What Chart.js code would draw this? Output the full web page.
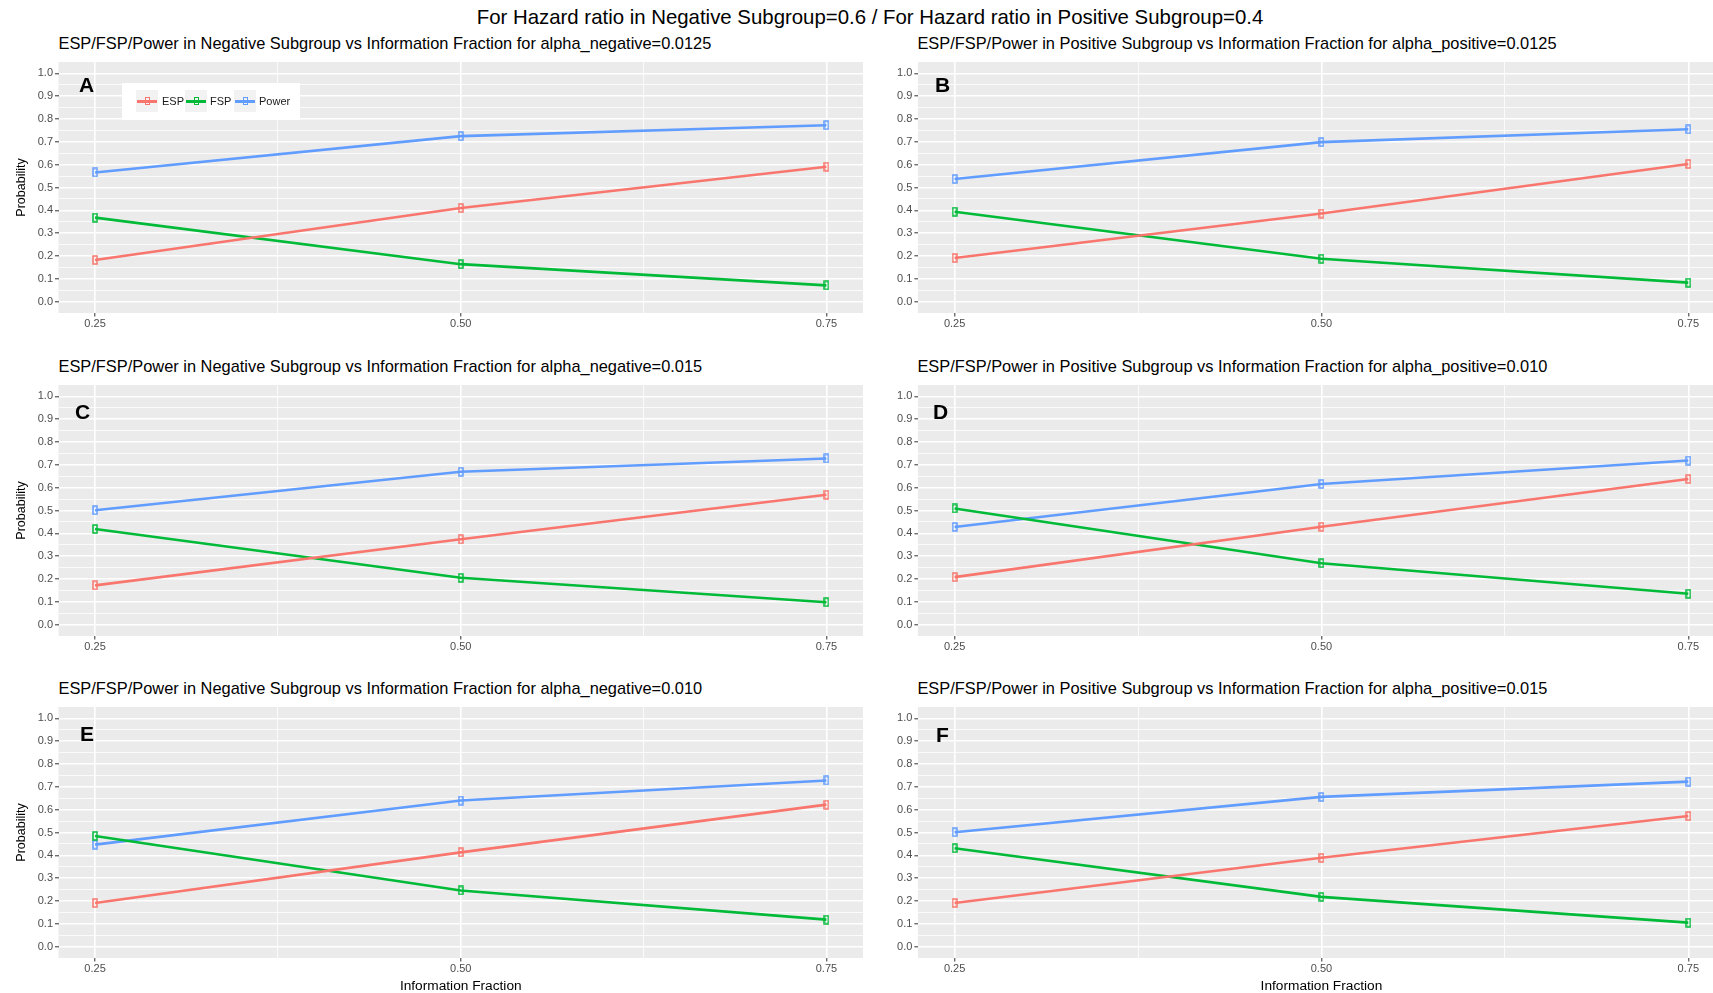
<!DOCTYPE html>
<html>
<head>
<meta charset="utf-8">
<script src="https://cdn.jsdelivr.net/npm/chart.js@4.4.1/dist/chart.umd.min.js"></script>
<style>
html,body{margin:0;padding:0;background:#fff;overflow:hidden;width:1713px;height:993px;position:relative;font-family:"Liberation Sans",Arial,Helvetica,sans-serif}
.txt{position:absolute;white-space:nowrap;color:#000;line-height:1}
canvas{position:absolute;display:block}
.legend{position:absolute;background:#fff}
.key{position:absolute;width:22px;height:22px;background:#F2F2F2}
.keyline{position:absolute;left:1px;right:1px;top:10px;height:2.6px}
.keymark{position:absolute;left:9px;top:7px;width:2.5px;height:6px;border:1.3px solid;background:transparent}
.ltxt{position:absolute;font-size:11px;color:#1A1A1A;line-height:1}
</style>
</head>
<body>
<script>
// ---------------- DATA ----------------
const mainTitle = "For Hazard ratio in Negative Subgroup=0.6 / For Hazard ratio in Positive Subgroup=0.4";
const seriesNames = ["ESP", "FSP", "Power"];
const seriesColors = ["#F8766D", "#00BA38", "#619CFF"];
const xValues = [0.25, 0.50, 0.75];
const xTickLabels = ["0.25", "0.50", "0.75"];
const yTickValues = [0, 0.1, 0.2, 0.3, 0.4, 0.5, 0.6, 0.7, 0.8, 0.9, 1.0];
const yTickLabels = ["0.0", "0.1", "0.2", "0.3", "0.4", "0.5", "0.6", "0.7", "0.8", "0.9", "1.0"];
const xAxisTitle = "Information Fraction";
const yAxisTitle = "Probability";
const panelLetters = ["A", "B", "C", "D", "E", "F"];
const panelTitles = [
  "ESP/FSP/Power in Negative Subgroup vs Information Fraction for alpha_negative=0.0125",
  "ESP/FSP/Power in Positive Subgroup vs Information Fraction for alpha_positive=0.0125",
  "ESP/FSP/Power in Negative Subgroup vs Information Fraction for alpha_negative=0.015",
  "ESP/FSP/Power in Positive Subgroup vs Information Fraction for alpha_positive=0.010",
  "ESP/FSP/Power in Negative Subgroup vs Information Fraction for alpha_negative=0.010",
  "ESP/FSP/Power in Positive Subgroup vs Information Fraction for alpha_positive=0.015"
];
// panel A
const espA = [0.182, 0.410, 0.591];
const fspA = [0.368, 0.164, 0.071];
const powerA = [0.566, 0.725, 0.773];
// panel B
const espB = [0.191, 0.386, 0.603];
const fspB = [0.394, 0.188, 0.083];
const powerB = [0.537, 0.699, 0.755];
// panel C
const espC = [0.172, 0.374, 0.569];
const fspC = [0.419, 0.205, 0.098];
const powerC = [0.501, 0.670, 0.728];
// panel D
const espD = [0.208, 0.429, 0.638];
const fspD = [0.509, 0.269, 0.135];
const powerD = [0.428, 0.616, 0.719];
// panel E
const espE = [0.191, 0.413, 0.622];
const fspE = [0.485, 0.246, 0.118];
const powerE = [0.447, 0.640, 0.728];
// panel F
const espF = [0.191, 0.389, 0.572];
const fspF = [0.431, 0.218, 0.105];
const powerF = [0.501, 0.656, 0.723];

const panelSeries = [
  [espA, fspA, powerA],
  [espB, fspB, powerB],
  [espC, fspC, powerC],
  [espD, fspD, powerD],
  [espE, fspE, powerE],
  [espF, fspF, powerF]
];

// ---------------- LAYOUT ----------------
const FONT = '"Liberation Sans", Arial, Helvetica, sans-serif';
const gridTops = [62, 385, 707];
const gridH = 251;
const colLayout = [
  {canvasLeft: 0, areaLeft: 58.5, areaRight: 862.5},
  {canvasLeft: 858.5, areaLeft: 917.4, areaRight: 1724}
];
const letterPos = [[79, 74], [935, 74], [75, 401], [933, 401], [80, 723], [936, 724]];
const xMinorGrid = [0.375, 0.625];
const yMinorGrid = [0.05, 0.15, 0.25, 0.35, 0.45, 0.55, 0.65, 0.75, 0.85, 0.95];

function addText(text, left, top, css) {
  const d = document.createElement('div');
  d.className = 'txt';
  d.textContent = text;
  d.style.left = left + 'px';
  d.style.top = top + 'px';
  Object.assign(d.style, css || {});
  document.body.appendChild(d);
  return d;
}

// main title (centered)
addText(mainTitle, 0, 7, {fontSize: '20.4px', width: '1740px', textAlign: 'center', left: '0px'});

function markerCanvas(color) {
  const c = document.createElement('canvas');
  c.width = 6; c.height = 10;
  const g = c.getContext('2d');
  g.strokeStyle = color;
  g.lineWidth = 1.5;
  g.strokeRect(1, 1, 4, 8);
  return c;
}
const markers = seriesColors.map(markerCanvas);

const bgPlugin = {
  id: 'panelBg',
  beforeDraw(chart) {
    const a = chart.chartArea;
    const ctx = chart.ctx;
    ctx.save();
    ctx.fillStyle = '#EBEBEB';
    ctx.fillRect(a.left, a.top, a.right - a.left, a.bottom - a.top);
    ctx.restore();
  }
};

function near(a, b) { return Math.abs(a - b) < 1e-6; }
function isMajorX(v) { return xValues.some(t => near(t, v)); }
function isMajorY(v) { return yTickValues.some(t => near(t, v)); }
function noPad(s) { s.paddingTop = 0; s.paddingBottom = 0; s.paddingLeft = 0; s.paddingRight = 0; }

for (let p = 0; p < 6; p++) {
  const row = Math.floor(p / 2), col = p % 2;
  const L = colLayout[col];
  const top = gridTops[row];
  const bottomRow = row === 2;
  const xAxisH = bottomRow ? 37 : 25;
  const yAxisW = L.areaLeft - L.canvasLeft;
  const cw = Math.round(L.areaRight - L.canvasLeft);
  const ch = gridH + xAxisH;

  const cv = document.createElement('canvas');
  cv.style.left = L.canvasLeft + 'px';
  cv.style.top = top + 'px';
  cv.style.width = cw + 'px';
  cv.style.height = ch + 'px';
  cv.width = cw; cv.height = ch;
  document.body.appendChild(cv);

  // subtitle
  addText(panelTitles[p], L.areaLeft, top - 27, {fontSize: '16.4px'});
  // panel letter
  addText(panelLetters[p], letterPos[p][0], letterPos[p][1], {fontSize: '21px', fontWeight: 'bold', lineHeight: '21px'});

  const datasets = seriesNames.map((name, s) => ({
    label: name,
    data: xValues.map((x, i) => ({x: x, y: panelSeries[p][s][i]})),
    borderColor: seriesColors[s],
    backgroundColor: seriesColors[s],
    borderWidth: 2.6,
    tension: 0,
    pointStyle: markers[s],
    pointRadius: 4,
    fill: false
  }));

  new Chart(cv, {
    type: 'line',
    data: {datasets: datasets},
    options: {
      responsive: false,
      animation: false,
      devicePixelRatio: 1,
      layout: {padding: 0, autoPadding: false},
      plugins: {legend: {display: false}, tooltip: {enabled: false}, title: {display: false}},
      scales: {
        x: {
          type: 'linear', min: 0.225, max: 0.775,
          afterBuildTicks: s => { s.ticks = [0.25, 0.375, 0.5, 0.625, 0.75].map(v => ({value: v})); },
          afterFit: s => { s.height = xAxisH; noPad(s); },
          ticks: {
            autoSkip: false, maxRotation: 0, minRotation: 0, padding: 1,
            color: '#4D4D4D', font: {size: 11, family: FONT},
            callback: v => { const i = xValues.findIndex(t => near(t, v)); return i >= 0 ? xTickLabels[i] : ''; }
          },
          grid: {
            color: '#FFFFFF',
            lineWidth: c => isMajorX(c.tick.value) ? 1.6 : 0.8,
            tickLength: 3.5,
            tickWidth: 1,
            tickColor: c => isMajorX(c.tick.value) ? '#333333' : 'rgba(0,0,0,0)'
          },
          border: {display: false},
          title: {display: bottomRow, text: xAxisTitle, color: '#000', font: {size: 13.7, family: FONT}, padding: {top: 0, bottom: 0.8}}
        },
        y: {
          type: 'linear', min: -0.05, max: 1.05,
          afterBuildTicks: s => { s.ticks = yTickValues.concat(yMinorGrid).sort((a, b) => a - b).map(v => ({value: v})); },
          afterFit: s => { s.width = yAxisW; noPad(s); },
          ticks: {
            autoSkip: false, padding: 2,
            color: '#4D4D4D', font: {size: 11, family: FONT},
            callback: v => { const i = yTickValues.findIndex(t => near(t, v)); return i >= 0 ? yTickLabels[i] : ''; }
          },
          grid: {
            color: '#FFFFFF',
            lineWidth: c => isMajorY(c.tick.value) ? 1.6 : 0.8,
            tickLength: 3.5,
            tickWidth: 1,
            tickColor: c => isMajorY(c.tick.value) ? '#333333' : 'rgba(0,0,0,0)'
          },
          border: {display: false},
          title: {display: col === 0, text: yAxisTitle, color: '#000', font: {size: 12.5, family: FONT}, padding: {top: 14.5, bottom: 0}}
        }
      }
    },
    plugins: [bgPlugin]
  });
}

// legend inside panel A
(function () {
  const lg = document.createElement('div');
  lg.className = 'legend';
  Object.assign(lg.style, {left: '122px', top: '83px', width: '178px', height: '37px'});
  document.body.appendChild(lg);
  const keyX = [14, 63, 112];
  const txtX = [40, 88, 137];
  seriesNames.forEach((name, s) => {
    const k = document.createElement('div');
    k.className = 'key';
    k.style.left = keyX[s] + 'px'; k.style.top = '7px';
    const ln = document.createElement('div');
    ln.className = 'keyline'; ln.style.background = seriesColors[s];
    const mk = document.createElement('div');
    mk.className = 'keymark'; mk.style.borderColor = seriesColors[s];
    k.appendChild(ln); k.appendChild(mk);
    lg.appendChild(k);
    const t = document.createElement('div');
    t.className = 'ltxt'; t.textContent = name;
    t.style.left = txtX[s] + 'px'; t.style.top = '13px';
    lg.appendChild(t);
  });
})();
</script>
</body>
</html>
